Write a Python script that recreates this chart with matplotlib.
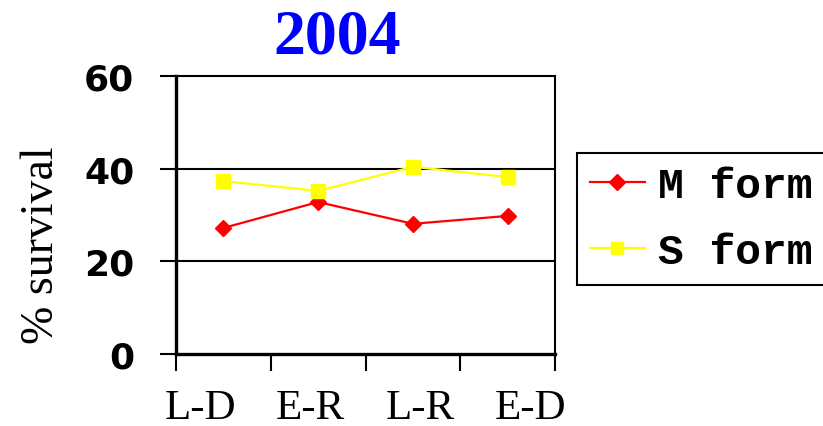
import matplotlib
matplotlib.use("Agg")
import matplotlib.pyplot as plt
import matplotlib.transforms as mtransforms
import numpy as np

categories = ["L-D", "E-R", "L-R", "E-D"]
m_form = [27.2, 32.8, 28.1, 29.8]
s_form = [37.3, 35.2, 40.4, 38.2]
yticks = [0, 20, 40, 60]
title = "2004"
ylabel = "% survival"
series_labels = ["M form", "S form"]

W, H = 823, 427
fig = plt.figure(figsize=(W / 100, H / 100), dpi=100)
ax = fig.add_axes([176 / W, 1 - 355 / H, (555 - 176) / W, (355 - 77) / H])

x = np.arange(len(categories))
l1, = ax.plot(x, m_form, color="red", lw=1.6, marker="D", ms=8.5, mec="red", mfc="red")
l2, = ax.plot(x, s_form, color="#ffff00", lw=1.6, marker="s", ms=9.5, mec="#ffff00", mfc="#ffff00")

ax.set_xlim(-0.5, len(categories) - 0.5)
ax.set_ylim(0, 60)
ax.set_yticks(yticks)
ax.set_yticklabels([str(v) for v in yticks], fontfamily="DejaVu Sans",
                   fontweight="bold", fontsize=26)
offset = mtransforms.ScaledTranslation(0, -4 / 72, fig.dpi_scale_trans)
for lab in ax.get_yticklabels():
    lab.set_transform(lab.get_transform() + offset)
for g in yticks[1:3]:
    ax.axhline(g, color="black", lw=1.5, zorder=0)

ax.set_xticks(np.arange(-0.5, len(categories), 1.0))
ax.set_xticklabels([])
center = (len(categories) - 1) / 2
ax.set_xticks(center + (x - center) * 1.16, minor=True)
ax.set_xticklabels(categories, minor=True, fontfamily="Liberation Serif", fontsize=31)
ax.tick_params(axis="x", which="minor", length=0, pad=25)
ax.tick_params(axis="x", which="major", length=12, width=1.5, direction="out")
ax.tick_params(axis="y", length=11.5, width=1.5, direction="out", pad=18.5)

for s in ax.spines.values():
    s.set_color("black")
    s.set_linewidth(1.5)
ax.spines["left"].set_linewidth(2.4)
ax.spines["bottom"].set_linewidth(2.4)

fig.text(337 / W, 1 - 53 / H, title, color="#0000ff", fontfamily="Liberation Serif",
         fontweight="bold", fontsize=46, ha="center", va="baseline")
fig.text(42 / W, 1 - 245 / H, ylabel, rotation=90, fontfamily="Liberation Serif",
         fontsize=33, ha="center", va="center")

leg = fig.legend([l1, l2], series_labels, loc="upper left",
                 bbox_to_anchor=(577 / W, 1 - 154 / H),
                 prop={"family": "Liberation Mono", "weight": "bold", "size": 31},
                 frameon=True, fancybox=False, edgecolor="black", framealpha=1,
                 handlelength=1.28, handletextpad=0.3, borderpad=0.3, labelspacing=0.6,
                 borderaxespad=0)
leg.get_frame().set_linewidth(1.5)
for h in leg.legend_handles:
    h.set_markersize(8)

fig.savefig("out.png", dpi=100)
